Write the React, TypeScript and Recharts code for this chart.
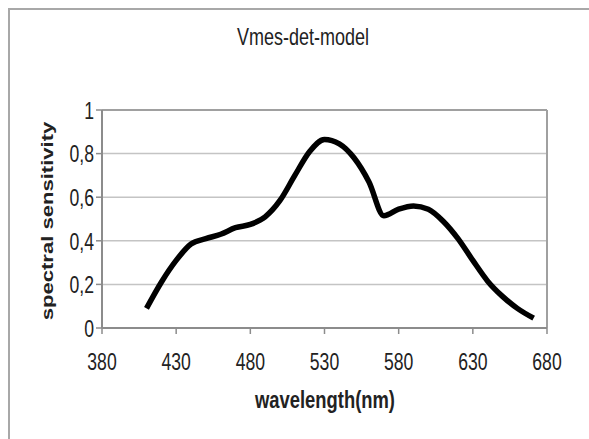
import React from 'react'
import { LineChart, Line, XAxis, YAxis, CartesianGrid, ReferenceLine } from 'recharts'

const wavelengths = [410, 420, 430, 440, 450, 460, 470, 480, 490, 500, 510, 520, 530, 540, 550, 560, 570, 580, 590, 600, 610, 620, 630, 640, 650, 660, 671]
const sensitivity = [0.09, 0.21, 0.31, 0.385, 0.41, 0.43, 0.46, 0.475, 0.51, 0.585, 0.7, 0.81, 0.865, 0.845, 0.78, 0.67, 0.515, 0.545, 0.56, 0.545, 0.49, 0.41, 0.31, 0.215, 0.145, 0.09, 0.045]
const xTicks = [380, 430, 480, 530, 580, 630, 680]
const yTicks = [0, 0.2, 0.4, 0.6, 0.8, 1]

const data = wavelengths.map((w, i) => ({ w, v: sensitivity[i] }))

const font = 'Arial, "Liberation Sans", sans-serif'

// the original picture is stretched vertically, so the text is too
const XTick = (props: any) => {
  const { x, y, payload } = props
  return (
    <text transform={`translate(${x},${y + 36}) scale(1,1.38)`} textAnchor="middle" fontFamily={font} fontSize={17.6} fill="#222">
      {payload.value}
    </text>
  )
}

const YTick = (props: any) => {
  const { x, y, payload } = props
  return (
    <text transform={`translate(${x - 2},${y + 8.7}) scale(1,1.38)`} textAnchor="end" fontFamily={font} fontSize={17.6} fill="#222">
      {String(payload.value).replace('.', ',')}
    </text>
  )
}

const App = () => {
  return (
    <div style={{ position: 'absolute', left: 0, top: 0, width: 589, height: 439, background: '#fff', overflow: 'hidden' }}>
      <div style={{ position: 'absolute', left: 8, top: 8, width: 700, height: 500, borderLeft: '2px solid #a8a8a8', borderTop: '2px solid #a8a8a8' }} />
      <svg style={{ position: 'absolute', left: 0, top: 0 }} width={589} height={439}>
        <text transform="translate(303,45) scale(1,1.36)" textAnchor="middle" fontFamily={font} fontSize={18} fill="#222">
          Vmes-det-model
        </text>
        <text transform="translate(325,408) scale(1,1.33)" textAnchor="middle" fontFamily={font} fontSize={18.4} fontWeight="bold" fill="#222">
          wavelength(nm)
        </text>
        <text transform="translate(53,221) rotate(-90) scale(1.38,1)" textAnchor="middle" fontFamily={font} fontSize={16} fontWeight="bold" fill="#222">
          spectral sensitivity
        </text>
      </svg>
      <div style={{ position: 'absolute', left: 0, top: 0 }}>
        <LineChart width={589} height={439} data={data} margin={{ top: 110, right: 42, left: 0, bottom: 0 }}>
          <CartesianGrid horizontal vertical={false} stroke="#c4c4c4" strokeWidth={1.5} />
          <XAxis
            dataKey="w"
            type="number"
            domain={[380, 680]}
            ticks={xTicks}
            height={111}
            tickSize={6}
            tickMargin={0}
            axisLine={{ stroke: '#8c8c8c', strokeWidth: 2 }}
            tickLine={{ stroke: '#8c8c8c', strokeWidth: 1.5 }}
            tick={<XTick />}
          />
          <YAxis
            domain={[0, 1]}
            ticks={yTicks}
            width={102}
            tickSize={6}
            tickMargin={0}
            axisLine={{ stroke: '#8c8c8c', strokeWidth: 2 }}
            tickLine={{ stroke: '#8c8c8c', strokeWidth: 1.5 }}
            tick={<YTick />}
          />
          <ReferenceLine x={680} stroke="#a0a0a0" strokeWidth={2} />
          <ReferenceLine y={1} stroke="#a0a0a0" strokeWidth={2} />
          <Line type="monotone" dataKey="v" stroke="#000" strokeWidth={5.5} dot={false} isAnimationActive={false} />
        </LineChart>
      </div>
    </div>
  )
}

export default App
